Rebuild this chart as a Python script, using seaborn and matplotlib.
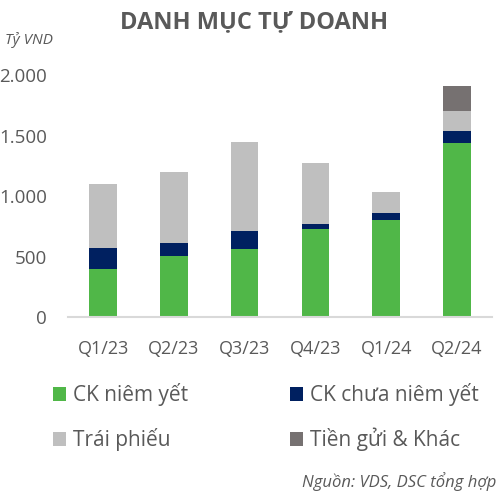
import numpy as np
import pandas as pd
import seaborn as sns
import matplotlib.pyplot as plt
from matplotlib.patches import Patch
from matplotlib.ticker import FuncFormatter

# Data (ty VND)
quarters = ["Q1/23", "Q2/23", "Q3/23", "Q4/23", "Q1/24", "Q2/24"]
ck_niem_yet = [400, 510, 560, 730, 800, 1440]
ck_chua_niem_yet = [175, 100, 150, 40, 65, 95]
trai_phieu = [525, 590, 737, 503, 173, 168]
tien_gui_khac = [0, 0, 0, 0, 0, 205]

labels = ["CK niêm yết", "CK chưa niêm yết", "Trái phiếu", "Tiền gửi & Khác"]
colors = ["#50B748", "#002060", "#BFBFBF", "#767171"]
text_color = "#595959"

sns.set_theme(style="white")
plt.rcParams['font.family'] = ['Open Sans', 'DejaVu Sans']

df = pd.DataFrame({"quarter": quarters})
layers = [ck_niem_yet, ck_chua_niem_yet, trai_phieu, tien_gui_khac]
cum = np.cumsum(np.array(layers), axis=0)

fig = plt.figure(figsize=(4.99, 4.92), dpi=100)
ax = fig.add_axes([0.1357, 0.355, 0.851, 0.4925])

# stacked bars: draw cumulative totals from top layer down
for i in range(len(layers) - 1, -1, -1):
    df["v"] = cum[i]
    sns.barplot(data=df, x="quarter", y="v", color=colors[i], width=0.39,
                saturation=1, ax=ax, linewidth=0)

ax.set_ylim(0, 2000)
ax.set_xlim(-0.5, 5.5)
ax.set_yticks([0, 500, 1000, 1500, 2000])
ax.yaxis.set_major_formatter(FuncFormatter(lambda v, p: f"{int(v):,}".replace(",", ".")))
ax.set_xlabel("")
ax.set_ylabel("")
ax.tick_params(axis="y", length=0, pad=15, labelsize=13.5, labelcolor=text_color)
ax.tick_params(axis="x", length=0, pad=16, labelsize=13, labelcolor=text_color)
for s in ["left", "right", "top"]:
    ax.spines[s].set_visible(False)
ax.spines["bottom"].set_color("#D9D9D9")
ax.spines["bottom"].set_linewidth(1.5)

fig.text(0.51, 0.955, "DANH MỤC TỰ DOANH", ha="center", va="center",
         fontsize=17, fontweight="bold", color=text_color)
fig.text(0.01, 0.918, "Tỷ VND", ha="left", va="center", fontsize=11,
         style="italic", color=text_color)
fig.text(0.995, 0.022, "Nguồn: VDS, DSC tổng hợp", ha="right", va="center",
         fontsize=12, style="italic", color=text_color)

handles = [Patch(facecolor=c, edgecolor="none") for c in colors]
order = [0, 2, 1, 3]
fig.legend([handles[i] for i in order], [labels[i] for i in order], ncol=2,
           loc="center left", bbox_to_anchor=(0.106, 0.152), frameon=False,
           borderpad=0, borderaxespad=0,
           fontsize=15, labelcolor=text_color, handlelength=0.65,
           handleheight=0.65, handletextpad=0.3, columnspacing=4.9,
           labelspacing=1.05)

fig.savefig("out.png", dpi=100)
